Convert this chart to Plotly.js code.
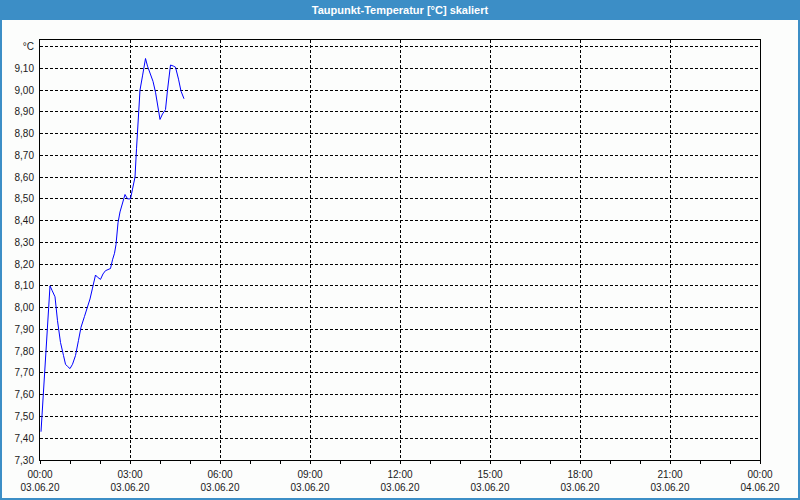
<!DOCTYPE html>
<html>
<head>
<meta charset="utf-8">
<script src="https://cdn.plot.ly/plotly-3.0.1.min.js"></script>
<style>
  html, body { margin: 0; padding: 0; background: #fcfdfc; }
  #chart { width: 800px; height: 500px; }
</style>
</head>
<body>
<div id="chart"></div>
<script>
// ---- data ----
const day = '2020-06-03';
const times = ['00:02','00:04','00:06','00:10','00:12','00:15','00:17','00:20','00:24','00:30',
  '00:35','00:41','00:47','00:51','00:55','01:00','01:05','01:11','01:17','01:22',
  '01:29','01:35','01:40','01:45','01:51','01:55','02:01','02:06','02:11','02:16',
  '02:21','02:25','02:29','02:32','02:36','02:40','02:45','02:50','02:55','03:01',
  '03:05','03:10','03:13','03:17','03:20','03:25','03:31','03:35','03:40','03:46',
  '03:51','03:55','04:00','04:05','04:11','04:15','04:21','04:27','04:31','04:37',
  '04:42','04:48'];
const dewPoint = [7.43,7.50,7.60,7.71,7.80,7.90,8.00,8.10,8.08,8.05,
  7.94,7.84,7.78,7.74,7.73,7.72,7.74,7.78,7.85,7.91,
  7.96,8.00,8.04,8.09,8.15,8.14,8.13,8.155,8.17,8.175,
  8.18,8.22,8.25,8.29,8.39,8.44,8.48,8.52,8.50,8.50,
  8.545,8.60,8.73,8.87,9.00,9.065,9.145,9.11,9.075,9.04,
  8.99,8.93,8.865,8.89,8.91,9.00,9.115,9.11,9.105,9.05,
  8.995,8.96];

const xTickTimes = ['2020-06-03 00:00','2020-06-03 03:00','2020-06-03 06:00','2020-06-03 09:00',
  '2020-06-03 12:00','2020-06-03 15:00','2020-06-03 18:00','2020-06-03 21:00','2020-06-04 00:00'];
const xTickClock = ['00:00','03:00','06:00','09:00','12:00','15:00','18:00','21:00','00:00'];
const xTickDate  = ['03.06.20','03.06.20','03.06.20','03.06.20','03.06.20','03.06.20','03.06.20','03.06.20','04.06.20'];

const yTickVals = [7.3,7.4,7.5,7.6,7.7,7.8,7.9,8.0,8.1,8.2,8.3,8.4,8.5,8.6,8.7,8.8,8.9,9.0,9.1,9.2];
const yTickLabels = ['7,30','7,40','7,50','7,60','7,70','7,80','7,90','8,00','8,10','8,20',
  '8,30','8,40','8,50','8,60','8,70','8,80','8,90','9,00','9,10','°C'];

const titleText = 'Taupunkt-Temperatur [°C] skaliert';

// ---- chart ----
const W = 800, H = 500, L = 40, R = 40, T = 40, B = 40;
const pw = W - L - R, ph = H - T - B;
const px = v => (v - L) / pw;          // pixel x -> paper x
const py = v => (H - B - v) / ph;      // pixel y -> paper y

const trace = {
  x: times.map(t => day + ' ' + t),
  y: dewPoint,
  type: 'scatter',
  mode: 'lines',
  line: { color: '#0000ff', width: 1 },
  hoverinfo: 'skip'
};

// empty helper trace so the date-label axis (x2) is drawn
const dateAxisTrace = {
  x: xTickTimes,
  y: xTickTimes.map(() => null),
  xaxis: 'x2',
  type: 'scatter',
  mode: 'lines',
  line: { color: 'rgba(0,0,0,0)', width: 0 },
  hoverinfo: 'skip',
  showlegend: false
};

const blue = '#3c8ec6';
const labelFont = { family: 'Liberation Sans, Arial, sans-serif', size: 10, color: '#1a1a1a' };
const xRange = ['2020-06-03 00:00', '2020-06-04 00:00'];

const layout = {
  width: W, height: H,
  margin: { l: L, r: R, t: T, b: B, pad: 0 },
  paper_bgcolor: '#fcfdfc',
  plot_bgcolor: '#fcfdfc',
  showlegend: false,
  font: labelFont,
  title: {
    text: titleText,
    x: 0.5, xanchor: 'center',
    y: 1 - 10 / H, yanchor: 'middle', yref: 'container',
    font: { family: 'Liberation Sans, Arial, sans-serif', size: 11, color: '#ffffff', weight: 'bold' }
  },
  xaxis: {
    type: 'date',
    range: xRange,
    tickmode: 'array',
    tickvals: xTickTimes,
    ticktext: xTickClock,
    ticks: 'outside', ticklen: 3, tickcolor: '#000',
    ticklabelstandoff: 2,
    showgrid: true, gridcolor: '#000', gridwidth: 1, griddash: '3px,2px',
    showline: true, linecolor: '#000', linewidth: 1, mirror: true,
    zeroline: false,
    minor: { dtick: 3600000, ticks: 'outside', ticklen: 3, tickcolor: '#000', showgrid: false },
    tickfont: labelFont,
    fixedrange: true
  },
  xaxis2: {
    type: 'date',
    overlaying: 'x',
    anchor: 'y',
    side: 'bottom',
    range: xRange,
    tickmode: 'array',
    tickvals: xTickTimes,
    ticktext: xTickDate,
    ticks: '',
    ticklabelstandoff: 20,
    showgrid: false, showline: false, zeroline: false,
    tickfont: labelFont,
    fixedrange: true
  },
  yaxis: {
    range: [7.3, 9.23],
    tickmode: 'array',
    tickvals: yTickVals,
    ticktext: yTickLabels,
    ticks: '',
    ticklabelstandoff: 3,
    showgrid: true, gridcolor: '#000', gridwidth: 1, griddash: '3px,2px',
    showline: true, linecolor: '#000', linewidth: 1, mirror: true,
    zeroline: false,
    tickfont: labelFont,
    fixedrange: true
  },
  shapes: [
    { type: 'rect', xref: 'paper', yref: 'paper', layer: 'below',
      x0: px(0), x1: px(800), y0: py(0), y1: py(20),
      fillcolor: blue, line: { width: 0 } },
    { type: 'rect', xref: 'paper', yref: 'paper', layer: 'above',
      x0: px(1), x1: px(799), y0: py(1), y1: py(499),
      fillcolor: 'rgba(0,0,0,0)', line: { color: blue, width: 2 } }
  ]
};

Plotly.newPlot('chart', [trace, dateAxisTrace], layout, { displayModeBar: false, staticPlot: true });
</script>
</body>
</html>
